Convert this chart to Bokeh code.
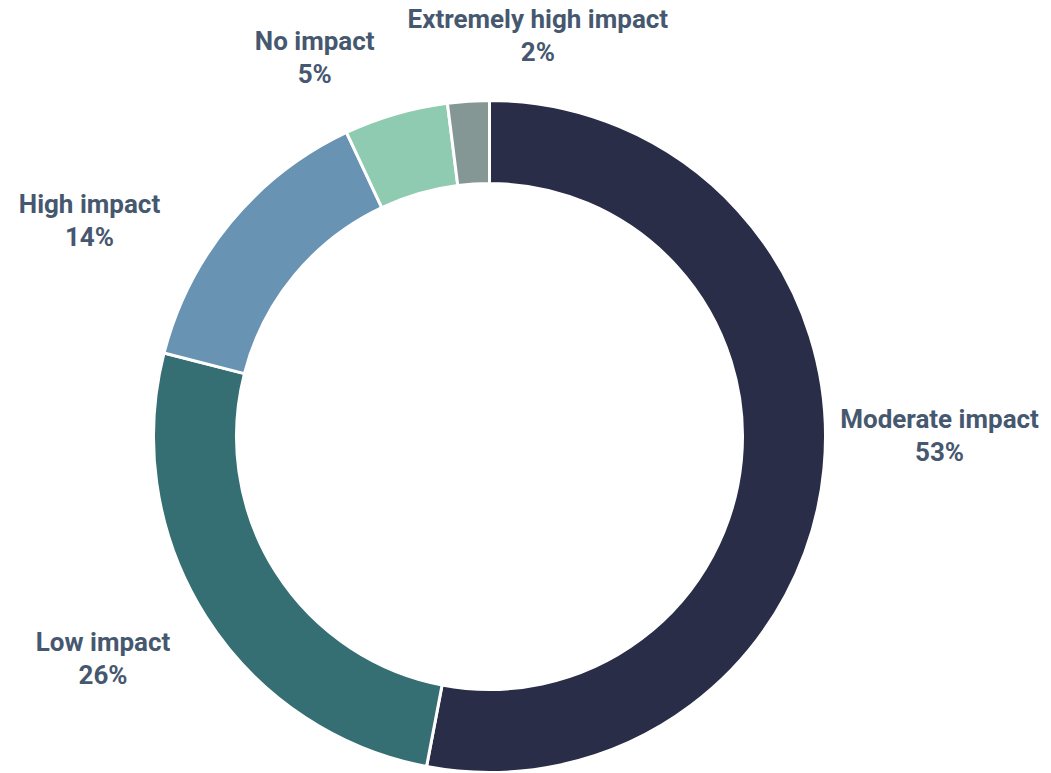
import math
from bokeh.plotting import figure
from bokeh.models import Range1d, ColumnDataSource
from bokeh.core.properties import value
from bokeh.embed import file_html
from bokeh.resources import INLINE

# ---- data ----
categories = ["Moderate impact", "Low impact", "High impact", "No impact", "Extremely high impact"]
shares = [53, 26, 14, 5, 2]
colors = ["#2a2d48", "#356f74", "#6893b3", "#8ecbb0", "#849795"]

# ---- layout (styling) ----
W, H = 1051, 773
cx, cy = 489, 337          # donut centre in plot coordinates (y up)
r_out, r_in = 336, 253
r_lab = 440
# per-label nudges (x, y) from the radial anchor
nudges = [(12, 42), (-15, 13), (-61, -65), (-52, -44), (76, -39)]

total = float(sum(shares))
starts, ends, mids = [], [], []
a = math.pi / 2
for s in shares:
    sweep = 2 * math.pi * s / total
    starts.append(a)
    ends.append(a - sweep)
    mids.append(a - sweep / 2)
    a -= sweep

p = figure(width=W, height=H, x_range=Range1d(0, W), y_range=Range1d(0, H),
           output_backend="svg", toolbar_location=None, min_border=0,
           outline_line_color=None)
p.axis.visible = False
p.grid.visible = False
p.background_fill_color = "white"
p.border_fill_color = "white"

src = ColumnDataSource(dict(start=starts, end=ends, color=colors))
p.annular_wedge(x=cx, y=cy, inner_radius=r_in, outer_radius=r_out,
                start_angle="end", end_angle="start", fill_color="color",
                line_color="white", line_width=3, source=src)

lx, ly1, ly2, pct = [], [], [], []
for m, (dx, dy), s in zip(mids, nudges, shares):
    x = cx + r_lab * math.cos(m) + dx
    y = cy + r_lab * math.sin(m) + dy
    lx.append(x)
    ly1.append(y + 17)
    ly2.append(y - 16)
    pct.append(f"{s}%")

lsrc = ColumnDataSource(dict(x=lx, y1=ly1, y2=ly2, name=categories, pct=pct))
for ycol, tcol in (("y1", "name"), ("y2", "pct")):
    p.text(x="x", y=ycol, text=tcol, source=lsrc, text_align="center",
           text_baseline="middle", text_font=value("Roboto"),
           text_font_style="bold", text_font_size="26px", text_color="#465870")

open("out.html", "w").write(file_html(p, INLINE))
